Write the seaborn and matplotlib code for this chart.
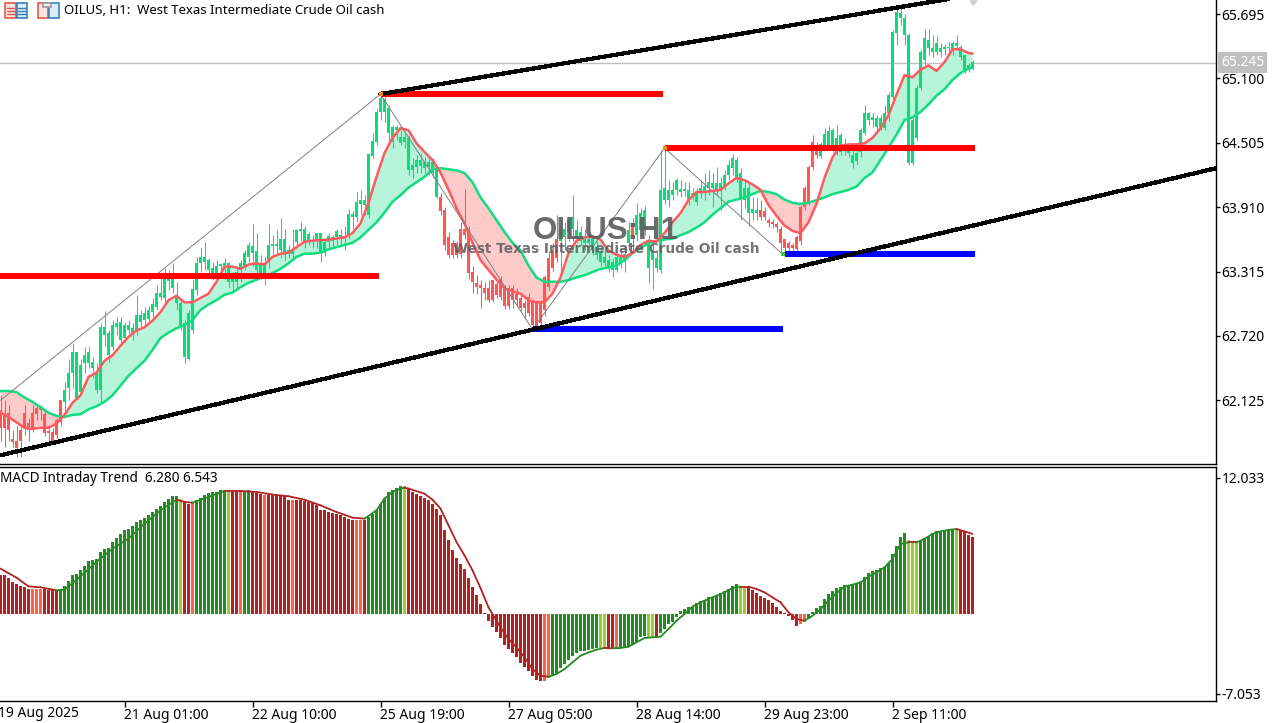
import matplotlib
matplotlib.use("Agg")
import matplotlib.pyplot as plt
import matplotlib.patches as mpatches
import numpy as np
import pandas as pd
import seaborn as sns

# candles, one value per H1 bar
open_prices = [
    62.03,62.01,62.01,61.77,61.75,61.85,62.01,61.91,62.01,62.05,
    62.05,62.00,61.84,61.83,61.94,62.125,62.11,62.24,62.38,62.15,
    62.20,62.47,62.47,62.42,62.22,62.22,62.73,62.54,62.62,62.80,
    62.68,62.70,62.77,62.75,62.77,62.85,62.87,62.88,62.94,62.99,
    63.08,63.07,63.23,63.16,63.02,62.80,62.52,62.51,62.77,63.14,
    63.39,63.40,63.33,63.30,63.30,63.37,63.35,63.22,63.22,63.22,
    63.35,63.37,63.45,63.49,63.33,63.30,63.25,63.42,63.55,63.55,
    63.51,63.47,63.48,63.48,63.59,63.69,63.58,63.60,63.59,63.60,
    63.49,63.49,63.59,63.60,63.63,63.63,63.63,63.65,63.82,63.82,
    63.94,63.93,63.84,64.38,64.51,64.79,64.79,64.60,64.51,64.62,
    64.50,64.51,64.25,64.25,64.28,64.29,64.27,64.28,64.23,64.00,
    64.00,63.88,63.63,63.58,63.58,63.71,63.71,63.71,63.31,63.21,
    63.19,63.16,63.16,63.24,63.20,63.25,63.16,63.16,63.16,63.11,
    63.07,63.02,63.08,63.03,63.03,63.03,63.26,63.44,63.51,63.62,
    63.60,63.63,63.68,63.71,63.62,63.60,63.58,63.58,63.51,63.47,
    63.40,63.39,63.35,63.33,63.33,63.39,63.40,63.58,63.76,63.65,
    63.70,63.70,63.35,63.42,63.35,63.33,63.975,63.975,64.02,64.07,
    64.05,64.06,63.975,64.02,63.96,64.05,64.05,64.09,64.09,64.07,
    64.07,64.11,64.21,64.27,64.18,63.975,63.975,63.86,63.86,63.86,
    63.88,63.87,63.79,63.77,63.75,63.71,63.62,63.58,63.56,63.63,
    63.91,64.09,64.28,64.51,64.46,64.38,64.48,64.47,64.47,64.46,
    64.42,64.44,64.41,64.32,64.34,64.42,64.60,64.72,64.715,64.65,
    64.65,64.64,64.78,64.93,65.52,65.66,65.50,64.32,64.32,64.55,
    65.01,65.27,65.38,65.34,65.34,65.34,65.37,65.38,65.37,65.40,
    65.30,65.16,65.18,65.205,
]
close_prices = [
    61.87,61.87,61.85,61.74,61.68,61.75,61.87,61.85,61.87,62.00,
    62.03,61.82,61.82,61.75,61.80,61.92,62.22,62.38,62.57,62.57,
    62.45,62.54,62.57,62.48,62.38,62.80,62.80,62.745,62.82,62.84,
    62.85,62.82,62.82,62.79,62.91,62.91,62.93,62.96,63.01,63.12,
    63.12,63.25,63.25,63.25,63.10,63.02,62.84,62.93,63.15,63.39,
    63.45,63.45,63.42,63.35,63.37,63.38,63.39,63.39,63.26,63.31,
    63.39,63.49,63.56,63.55,63.50,63.39,63.39,63.56,63.57,63.57,
    63.62,63.62,63.51,63.51,63.70,63.71,63.71,63.66,63.60,63.67,
    63.67,63.59,63.64,63.63,63.69,63.65,63.64,63.85,63.85,63.96,
    63.975,63.975,64.40,64.52,64.79,64.92,64.91,64.83,64.65,64.65,
    64.56,64.56,64.55,64.30,64.35,64.35,64.33,64.33,64.33,64.25,
    63.87,63.56,63.47,63.47,63.47,63.48,63.65,63.30,63.22,63.17,
    63.16,63.12,63.05,63.05,63.10,63.08,63.00,63.00,63.05,63.05,
    62.98,62.98,62.93,62.82,62.80,62.84,62.96,63.17,63.35,63.44,
    63.70,63.71,63.79,63.82,63.70,63.68,63.62,63.62,63.62,63.54,
    63.49,63.45,63.42,63.40,63.45,63.47,63.48,63.70,63.63,63.84,
    63.86,63.88,63.60,63.51,63.44,64.07,64.09,64.07,64.07,64.16,
    64.08,64.08,64.07,64.04,64.05,64.09,64.11,64.14,64.13,64.13,
    64.13,64.21,64.30,64.36,64.35,64.23,64.09,64.09,63.89,63.88,
    63.82,63.82,63.76,63.75,63.725,63.58,63.53,63.53,63.53,63.52,
    63.60,63.91,63.95,64.28,64.39,64.49,64.59,64.61,64.62,64.55,
    64.58,64.48,64.43,64.39,64.41,64.62,64.78,64.78,64.74,64.73,
    64.73,64.78,64.95,65.53,65.71,65.705,65.66,65.50,64.72,65.01,
    65.34,65.47,65.455,65.38,65.43,65.38,65.39,65.39,65.43,65.43,
    65.39,65.32,65.22,65.25,
]
high_prices = [
    62.17,62.125,62.08,61.85,61.89,61.89,62.08,61.96,62.08,62.09,
    62.08,62.03,61.87,61.87,61.96,62.125,62.29,62.51,62.65,62.57,
    62.51,62.62,62.62,62.52,62.47,62.84,62.95,62.77,62.87,62.89,
    62.89,62.85,62.87,62.84,63.10,62.96,62.99,63.00,63.07,63.19,
    63.30,63.35,63.33,63.39,63.22,63.07,62.87,62.96,63.25,63.45,
    63.53,63.59,63.44,63.40,63.42,63.39,63.44,63.40,63.31,63.37,
    63.42,63.51,63.59,63.75,63.67,63.47,63.45,63.75,63.65,63.70,
    63.81,63.71,63.56,63.71,63.71,63.77,63.74,63.68,63.65,63.67,
    63.67,63.61,63.67,63.65,63.71,63.71,63.74,63.89,63.87,64.05,
    64.07,64.02,64.40,64.60,64.83,64.95,64.95,64.85,64.67,64.67,
    64.62,64.60,64.58,64.36,64.39,64.41,64.37,64.36,64.36,64.28,
    64.04,63.91,63.68,63.61,63.60,63.77,64.08,63.74,63.37,63.28,
    63.24,63.22,63.24,63.24,63.24,63.27,63.19,63.19,63.19,63.16,
    63.10,63.05,63.12,63.05,63.05,63.05,63.28,63.50,63.58,63.84,
    63.79,63.77,63.79,64.02,63.79,63.74,63.71,63.68,63.65,63.60,
    63.53,63.51,63.47,63.44,63.49,63.53,63.56,63.77,63.81,63.95,
    63.90,63.92,63.65,63.58,63.51,64.44,64.44,64.16,64.14,64.18,
    64.16,64.14,64.14,64.09,64.09,64.16,64.23,64.25,64.225,64.28,
    64.19,64.25,64.35,64.40,64.37,64.27,64.16,64.13,64.00,63.99,
    63.975,63.91,63.81,63.80,63.77,63.74,63.62,63.60,63.58,63.65,
    63.93,64.11,64.30,64.58,64.51,64.51,64.64,64.66,64.64,64.67,
    64.60,64.55,64.46,64.44,64.46,64.64,64.85,64.79,64.78,64.76,
    64.76,64.85,64.97,65.55,65.75,65.75,65.70,65.52,64.74,65.04,
    65.36,65.56,65.56,65.50,65.49,65.43,65.42,65.44,65.45,65.50,
    65.41,65.33,65.24,65.27,
]
low_prices = [
    61.75,61.69,61.75,61.69,61.60,61.60,61.80,61.75,61.83,61.94,
    61.94,61.79,61.74,61.73,61.78,61.89,62.01,62.125,62.24,62.14,
    62.19,62.38,62.42,62.33,62.19,62.11,62.63,62.48,62.59,62.73,
    62.63,62.66,62.73,62.68,62.73,62.79,62.82,62.85,62.89,62.96,
    63.05,63.03,63.14,63.12,62.96,62.77,62.47,62.50,62.75,63.10,
    63.31,63.33,63.28,63.24,63.24,63.28,63.25,63.16,63.14,63.14,
    63.22,63.33,63.40,63.37,63.24,63.25,63.19,63.35,63.48,63.47,
    63.44,63.42,63.44,63.44,63.53,63.60,63.53,63.56,63.53,63.53,
    63.40,63.46,63.51,63.53,63.56,63.55,63.51,63.62,63.71,63.77,
    63.84,63.84,63.81,64.36,64.48,64.72,64.70,64.51,64.46,64.53,
    64.48,64.46,64.21,64.18,64.23,64.23,64.23,64.21,64.18,63.99,
    63.84,63.51,63.44,63.44,63.44,63.44,63.62,63.25,63.12,63.11,
    62.98,63.05,63.03,63.03,63.07,63.05,62.97,62.97,62.98,63.00,
    62.95,62.88,62.90,62.80,62.78,62.82,62.90,63.14,63.32,63.40,
    63.30,63.51,63.60,63.60,63.59,63.56,63.51,63.53,63.47,63.42,
    63.37,63.35,63.31,63.26,63.31,63.35,63.31,63.51,63.51,63.60,
    63.65,63.65,63.21,63.15,63.31,63.30,63.94,63.91,63.975,64.02,
    64.00,64.01,63.93,63.975,63.93,63.99,63.975,64.02,63.91,64.02,
    63.88,64.07,64.16,64.21,64.14,63.79,63.90,63.74,63.79,63.79,
    63.79,63.79,63.725,63.715,63.68,63.47,63.49,63.49,63.51,63.49,
    63.56,63.88,63.93,64.25,64.36,64.36,64.46,64.44,64.42,64.39,
    64.39,64.39,64.37,64.27,64.30,64.37,64.58,64.67,64.65,64.62,
    64.62,64.62,64.71,64.90,65.41,65.59,65.41,64.30,64.30,64.53,
    64.99,65.22,65.32,65.30,65.32,65.30,65.32,65.32,65.32,65.36,
    65.27,65.15,65.16,65.18,
]

# the two moving averages, read every second bar
ma_bars = list(range(0, 244, 2)) + [243]
fast_ma = [
    62.01,61.97,61.92,61.87,61.86,61.87,61.87,61.91,61.99,62.10,
    62.17,62.34,62.38,62.49,62.54,62.63,62.71,62.77,62.80,62.86,
    62.94,63.05,63.09,63.03,63.03,63.07,63.11,63.22,63.36,63.36,
    63.34,63.38,63.39,63.38,63.45,63.48,63.49,63.54,63.59,63.60,
    63.605,63.61,63.62,63.63,63.67,63.76,63.95,64.19,64.41,64.55,
    64.64,64.62,64.50,64.42,64.345,64.23,64.07,63.90,63.76,63.58,
    63.42,63.33,63.24,63.16,63.13,63.11,63.05,63.03,63.03,63.11,
    63.26,63.485,63.60,63.63,63.64,63.61,63.51,63.47,63.45,63.485,
    63.56,63.60,63.59,63.67,63.77,63.855,63.975,64.05,64.05,64.06,
    64.07,64.13,64.18,64.16,64.12,64.07,63.93,63.83,63.74,63.69,
    63.67,63.77,63.94,64.18,64.37,64.48,64.49,64.49,64.50,64.55,
    64.64,64.76,64.95,65.13,65.11,65.18,65.22,65.17,65.25,65.37,
    65.37,65.335,65.33,
]
slow_ma = [
    62.21,62.21,62.20,62.15,62.11,62.06,62.01,61.98,61.97,61.99,
    61.995,62.04,62.07,62.11,62.17,62.26,62.35,62.42,62.49,62.59,
    62.70,62.75,62.79,62.82,62.865,62.96,63.01,63.05,63.10,63.12,
    63.17,63.21,63.24,63.27,63.30,63.34,63.39,63.45,63.48,63.48,
    63.49,63.52,63.54,63.56,63.58,63.63,63.70,63.77,63.86,63.96,
    64.02,64.09,64.14,64.19,64.26,64.27,64.26,64.25,64.225,64.14,
    64.00,63.90,63.79,63.68,63.58,63.51,63.37,63.26,63.22,63.22,
    63.22,63.235,63.26,63.28,63.31,63.34,63.35,63.37,63.42,63.485,
    63.53,63.58,63.60,63.61,63.62,63.65,63.68,63.72,63.77,63.84,
    63.90,63.96,63.98,64.00,64.03,64.06,64.05,64.03,63.98,63.95,
    63.94,63.95,63.975,64.00,64.03,64.05,64.07,64.10,64.18,64.23,
    64.345,64.46,64.58,64.715,64.74,64.79,64.86,64.94,65.00,65.085,
    65.15,65.19,65.20,
]

# levels and trend lines
resist_levels = [(-0.2, 94.7, 63.27), (95, 165.5, 64.955), (166, 243.5, 64.456)]
support_levels = [(133, 195.5, 62.78), (196, 243.5, 63.475)]
zigzag_bars = [0, 95, 133, 166, 195.5]
zigzag_prices = [62.125, 64.955, 62.78, 64.456, 63.475]
upper_bars = [95, 250]
upper_prices = [64.955, 65.915]
lower_bars = [0, 304]
lower_prices = [61.616, 64.271]
last_price = 65.245

# MACD panel
macd_hist = [
    3.48,3.42,3.21,2.83,2.62,2.44,2.39,2.18,2.24,2.24,
    2.24,2.18,2.15,2.09,2.03,2.24,2.44,2.92,3.42,3.51,
    3.86,4.27,4.68,4.80,4.83,5.48,5.77,5.86,6.36,6.75,
    7.04,7.45,7.54,7.75,8.13,8.34,8.51,8.72,9.01,9.31,
    9.51,9.90,10.19,10.40,10.40,10.19,9.90,9.75,9.81,10.10,
    10.28,10.49,10.69,10.75,10.78,10.93,10.99,10.93,10.87,10.87,
    10.87,10.87,10.93,10.87,10.69,10.63,10.49,10.55,10.55,10.55,
    10.49,10.40,10.10,10.10,10.10,10.10,9.99,9.90,9.81,9.60,
    9.22,9.16,9.01,8.92,8.87,8.72,8.57,8.42,8.34,8.34,
    8.34,8.34,8.57,8.81,9.16,9.75,10.28,10.78,10.93,11.16,
    11.28,11.28,11.08,10.78,10.63,10.40,10.28,10.04,9.75,9.31,
    8.72,7.45,6.51,5.68,4.98,4.45,4.01,3.21,2.39,1.65,
    0.85,0.12,-0.65,-1.18,-1.62,-2.15,-2.71,-3.09,-3.48,-3.83,
    -4.36,-4.65,-5.01,-5.45,-5.80,-5.95,-5.89,-5.68,-5.45,-5.21,
    -4.80,-4.42,-4.06,-3.68,-3.48,-3.30,-3.24,-3.18,-3.12,-3.03,
    -3.03,-3.03,-3.03,-3.03,-3.03,-3.03,-2.95,-2.89,-2.71,-2.50,
    -2.00,-1.97,-2.00,-2.00,-2.06,-1.68,-1.33,-0.88,-0.74,-0.29,
    0.24,0.44,0.65,0.59,0.94,1.18,1.18,1.47,1.53,1.71,
    1.83,2.00,2.21,2.50,2.65,2.42,2.36,2.42,2.12,1.83,
    1.62,1.41,1.24,0.94,0.65,0.29,0.06,-0.15,-0.53,-1.03,
    -0.88,-0.74,-0.44,0.21,0.53,0.74,1.33,1.77,2.06,2.30,
    2.42,2.59,2.59,2.65,2.71,2.86,3.30,3.59,3.77,3.89,
    4.04,4.18,4.51,5.30,6.04,6.77,7.16,6.54,6.24,6.24,
    6.42,6.72,6.92,7.13,7.30,7.36,7.42,7.45,7.54,7.51,
    7.42,7.30,7.01,6.83,
]
hist_runs = [("down", 8), ("ease", 3), ("down", 4), ("up", 30), ("turn", 1), ("down", 2), ("ease", 1),
             ("up", 8), ("turn", 1), ("down", 2), ("ease", 1), ("up", 2), ("down", 3), ("ease", 1),
             ("down", 6), ("ease", 1), ("down", 15), ("ease", 2), ("down", 1), ("up", 9), ("turn", 1),
             ("down", 34), ("ease", 2), ("up", 12), ("turn", 2), ("down", 2), ("ease", 1), ("up", 7),
             ("turn", 2), ("down", 1), ("up", 20), ("turn", 2), ("down", 13), ("ease", 2), ("up", 25),
             ("turn", 3), ("up", 9), ("turn", 1), ("down", 4)]
signal_bars = [0,4,7,10,14,16,20,24,28,32,36,40,44,46,48,52,56,60,64,68,72,76,80,84,88,91,94,96,98,
               100,101,102,106,108,110,112,114,116,118,120,122,123,125,127,129,131,133,135,137,139,
               141,143,145,147,149,151,153,155,157,159,161,163,165,167,169,171,173,175,177,179,181,
               183,185,187,189,191,193,195,197,199,201,203,205,207,209,211,213,215,217,219,221,223,
               225,227,229,231,233,235,237,239,241,243]
signal_line = [4.01,3.21,2.44,2.36,2.09,2.15,3.33,4.60,5.77,6.66,7.98,9.16,10.10,9.90,9.84,10.34,
               10.87,10.87,10.78,10.55,10.40,10.10,9.60,9.01,8.51,8.42,9.16,10.19,10.78,
               11.08,11.16,11.08,10.63,10.10,9.31,7.84,6.36,5.18,3.86,2.30,0.59,0.00,-1.18,-2.21,
               -2.95,-3.83,-4.86,-5.45,-5.54,-5.30,-4.86,-4.27,-3.68,-3.39,-3.15,-3.00,-3.03,-3.00,
               -2.89,-2.50,-2.12,-2.06,-2.00,-1.33,-0.59,0.00,0.65,1.03,1.33,1.62,1.91,2.30,2.42,
               2.42,2.21,1.91,1.47,1.03,0.15,-0.44,-0.59,-0.15,0.44,1.18,1.83,2.42,2.59,2.80,3.30,
               3.68,4.12,4.86,6.19,6.33,6.33,6.63,7.07,7.30,7.42,7.51,7.30,7.07]

price_ticks = [65.695, 65.100, 64.505, 63.910, 63.315, 62.720, 62.125]
macd_ticks = [12.033, -7.053]
time_ticks = [31, 63, 95, 127, 159, 191, 223]
time_labels = ["21 Aug 01:00", "22 Aug 10:00", "25 Aug 19:00", "27 Aug 05:00",
               "28 Aug 14:00", "29 Aug 23:00", "2 Sep 11:00"]

BULL = "#0bdc78"
BEAR = "#ff5555"
FAST = "#ff5a5f"
SLOW = "#10dc82"
HIST_COLORS = {"up": "#228b22", "down": "#b22222", "ease": "#ff6347", "turn": "#9acd32"}

sns.set_theme(style="white")
plt.rcParams["font.family"] = ["Noto Sans", "DejaVu Sans"]

W, H = 1284, 723
fig = plt.figure(figsize=(W / 100, H / 100), dpi=100, facecolor="white")
ax = fig.add_axes([0, 1 - 463.5 / H, 1215.5 / W, 463.5 / H])
ax2 = fig.add_axes([0, 1 - 700.5 / H, 1215.5 / W, 234 / H])

bars = np.arange(len(open_prices))
candles = pd.DataFrame({"bar": bars, "open": open_prices, "close": close_prices,
                        "high": high_prices, "low": low_prices})
candle_colors = [BULL if c >= o else BEAR for o, c in zip(open_prices, close_prices)]

ax.vlines(candles["bar"], candles["low"], candles["high"], colors=candle_colors, linewidth=0.75,
          zorder=2)
ax.bar(candles["bar"], (candles["close"] - candles["open"]).abs().clip(lower=0.012),
       bottom=candles[["open", "close"]].min(axis=1), width=0.72, color=candle_colors, linewidth=0,
       zorder=2)

fast = np.array(fast_ma)
slow = np.array(slow_ma)
ax.fill_between(ma_bars, fast, slow, where=fast >= slow, interpolate=True, color="#b3f5d8", alpha=0.95, linewidth=0, zorder=1.5)
ax.fill_between(ma_bars, fast, slow, where=fast <= slow, interpolate=True, color="#ffc8c8", alpha=0.95, linewidth=0, zorder=1.5)
sns.lineplot(x=ma_bars, y=slow_ma, color=SLOW, linewidth=1.8, ax=ax, zorder=3, errorbar=None)
sns.lineplot(x=ma_bars, y=fast_ma, color=FAST, linewidth=1.8, ax=ax, zorder=3.1, errorbar=None)

ax.axhline(last_price, color="#c0c0c0", linewidth=1, zorder=1)
ax.plot(zigzag_bars, zigzag_prices, color="#808080", linewidth=0.7, zorder=3.2)
for x0, x1, level in resist_levels:
    ax.plot([x0, x1], [level, level], color="#ff0000", linewidth=3.0, solid_capstyle="butt", antialiased=False, zorder=4)
for x0, x1, level in support_levels:
    ax.plot([x0, x1], [level, level], color="#0000ff", linewidth=3.0, solid_capstyle="butt", antialiased=False, zorder=4)
ax.plot(upper_bars, upper_prices, color="black", linewidth=2.3, antialiased=False, zorder=5)
ax.plot(lower_bars, lower_prices, color="black", linewidth=2.3, antialiased=False, zorder=5)
ax.scatter(zigzag_bars[1:4:2], zigzag_prices[1:4:2], s=10, marker="s", color="#ff8c00", linewidth=0, zorder=6)
ax.scatter(zigzag_bars[4], zigzag_prices[4], s=12, marker="s", color="#22dd22", linewidth=0, zorder=6)
ax.scatter(243, 65.815, s=18, marker="D", color="#d0d0d0", linewidth=0, zorder=6)

ax.set_xlim(-0.125, 303.75)
ax.set_ylim(61.54, 65.825)
ax.set_xticks([])
ax.set_yticks(price_ticks)
ax.set_yticklabels([f"{t:.3f}" for t in price_ticks])

# watermark
ax.text(151.3, 63.69, "OILUS:H1", ha="center", va="center", fontsize=22.5, fontweight="bold",
        family="Liberation Sans", color="#5c5c5c", alpha=0.9, zorder=7)
ax.text(151.5, 63.525, "West Texas Intermediate Crude Oil cash", ha="center", va="center", fontsize=9.8,
        fontweight="bold", family="DejaVu Sans", color="#5c5c5c", alpha=0.85, zorder=7)

# price tag
ax.text(1.0045, (last_price - 61.54) / (65.825 - 61.54), f"{last_price:.3f}", transform=ax.transAxes,
        ha="left", va="center", fontsize=10, color="white", zorder=8, clip_on=False,
        bbox=dict(facecolor="#c0c0c0", edgecolor="none", pad=2.2))

# MACD histogram
states = [state for state, count in hist_runs for _ in range(count)]
hist = pd.DataFrame({"bar": bars, "macd": macd_hist, "state": states})
sns.barplot(data=hist, x="bar", y="macd", hue="state", palette=HIST_COLORS, dodge=False, native_scale=True,
            width=0.75, saturation=1, linewidth=0, legend=False, errorbar=None, ax=ax2, zorder=2)
for patch in ax2.patches:
    patch.set_antialiased(False)
for k in range(len(signal_bars) - 1):
    rising = signal_line[k + 1] > signal_line[k]
    ax2.plot(signal_bars[k:k + 2], signal_line[k:k + 2], color="#228b22" if rising else "#b22222",
             linewidth=1.3, solid_capstyle="round", zorder=3)

ax2.set_xlim(-0.125, 303.75)
ax2.set_ylim(-7.64, 13.03)
ax2.set_xlabel("")
ax2.set_ylabel("")
ax2.set_yticks(macd_ticks)
ax2.set_yticklabels([f"{t:.3f}" for t in macd_ticks])
ax2.set_xticks(time_ticks)
ax2.set_xticklabels(time_labels, ha="left")
ax2.text(0, 13.03 - 12.0 / 11.317, "MACD Intraday Trend  6.280 6.543", ha="left", va="center",
         fontsize=9.75, color="black", zorder=5)
ax2.text(-0.6, -8.78, "19 Aug 2025", ha="left", va="center", fontsize=10, color="black", clip_on=False)

for a in (ax, ax2):
    a.set_facecolor("white")
    a.grid(False)
    a.spines["left"].set_visible(False)
    a.spines["top"].set_visible(a is ax2)
    for side in ("right", "bottom", "top"):
        a.spines[side].set_color("black")
        a.spines[side].set_linewidth(1)
    a.yaxis.tick_right()
    a.tick_params(axis="y", length=3, width=1, color="black", pad=1.5, labelsize=10, labelcolor="black")
    a.tick_params(axis="x", length=4, width=1, color="black", pad=1.5, labelsize=10, labelcolor="black", bottom=True)

# toolbar icons in the corner
def box(x, y, w, h, face, edge, lw=1.2):
    fig.add_artist(mpatches.Rectangle((x / W, 1 - (y + h) / H), w / W, h / H, transform=fig.transFigure,
                                      facecolor=face, edgecolor=edge, linewidth=lw))

box(5.5, 3.5, 10, 14, "#fbe4df", "#e0584c")
box(16.5, 3.5, 10, 14, "#dcecf8", "#3a80c0")
for row in (7.5, 10.5, 13.5):
    fig.add_artist(plt.Line2D([7 / W, 15 / W], [1 - row / H] * 2, color="#e0584c", linewidth=1))
    fig.add_artist(plt.Line2D([18 / W, 26 / W], [1 - row / H] * 2, color="#3a80c0", linewidth=1))
box(37.5, 3.5, 10, 14, "#fbe4df", "#e0584c")
box(48.5, 3.5, 10, 14, "#dcecf8", "#3a80c0")
box(43.5, 2.5, 8, 4, "#f0f0f0", "#9a9a9a")

fig.text(64 / W, 1 - 11 / H, "OILUS, H1:  West Texas Intermediate Crude Oil cash", ha="left", va="center",
         fontsize=9.5, color="black")

fig.savefig("out.png", dpi=100, facecolor="white")
